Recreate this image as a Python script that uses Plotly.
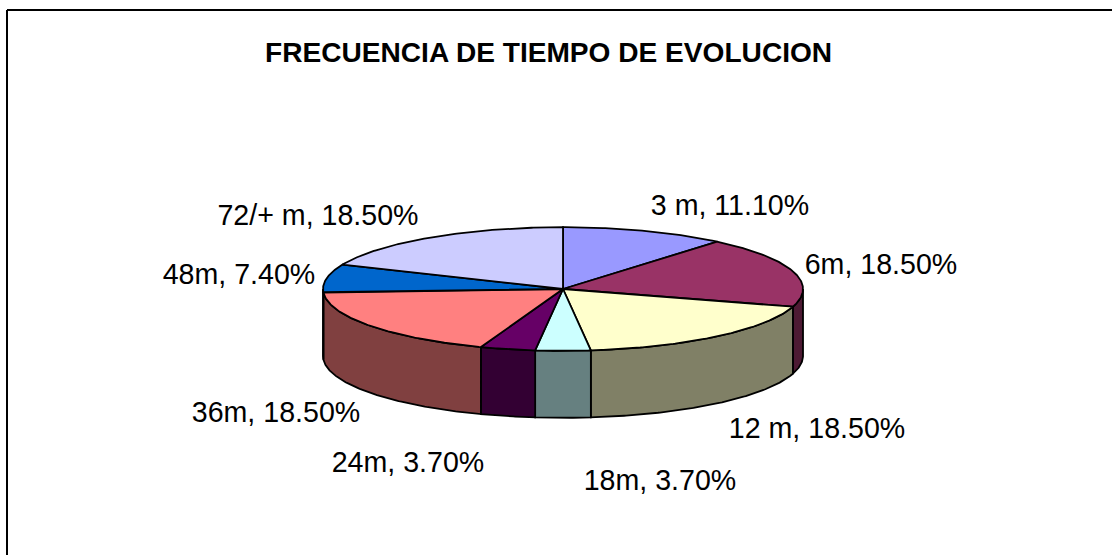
import numpy as np
import plotly.graph_objects as go

categories = ['3 m', '6m', '12 m', '18m', '24m', '36m', '48m', '72/+ m']
percents = [11.1, 18.5, 18.5, 3.7, 3.7, 18.5, 7.4, 18.5]
title_text = 'FRECUENCIA DE TIEMPO DE EVOLUCION'

top_colors = ['#9999FF', '#993366', '#FFFFCC', '#CCFFFF', '#660066', '#FF8080', '#0066CC', '#CCCCFF']
side_colors = ['#4D4D80', '#4D1A33', '#808066', '#668080', '#330033', '#804040', '#003366', '#666680']

# where each label sits, same order as categories
label_x = [730, 881, 817, 660, 408, 276, 239, 318]
label_y = [208, 267, 431, 483, 465, 415, 277, 218]

W, H = 1112, 555
CX, CY = 563, 289
RX, RY = 240, 61.8
DEPTH = 67
FONT = 'Liberation Sans, Arial, sans-serif'


def arc(a0, a1):
    # angles in degrees, clockwise from 12 o'clock
    t = np.radians(np.linspace(a0, a1, max(int(abs(a1 - a0) * 2), 2)))
    return CX + RX * np.sin(t), CY - RY * np.cos(t)


def polygon(fig, x, y, color):
    fig.add_trace(go.Scatter(x=list(x), y=list(y), mode='lines', fill='toself',
                             fillcolor=color, line=dict(color='black', width=1.8),
                             hoverinfo='skip', showlegend=False))


edges = np.cumsum([0] + percents) / sum(percents) * 360

fig = go.Figure()

# side walls first, only the front half of the rim shows
for i in range(len(percents)):
    a0, a1 = max(edges[i], 90), min(edges[i + 1], 270)
    if a1 <= a0:
        continue
    x, y = arc(a0, a1)
    polygon(fig, np.r_[x, x[::-1], x[0]], np.r_[y, y[::-1] + DEPTH, y[0]], side_colors[i])

# top of the pie
for i in range(len(percents)):
    x, y = arc(edges[i], edges[i + 1])
    polygon(fig, np.r_[CX, x, CX], np.r_[CY, y, CY], top_colors[i])

labels = [f'{c}, {p:.2f}%' for c, p in zip(categories, percents)]
fig.add_trace(go.Scatter(x=label_x, y=label_y, mode='text', text=labels,
                         textposition='middle center',
                         textfont=dict(family=FONT, size=28.6, color='black'),
                         hoverinfo='skip', showlegend=False))

fig.update_layout(width=W,
                  height=H,
                  margin=dict(l=0, r=0, t=0, b=0),
                  paper_bgcolor='white',
                  plot_bgcolor='white',
                  xaxis=dict(range=[0, W], visible=False, fixedrange=True),
                  yaxis=dict(range=[H, 0], visible=False, fixedrange=True),
                  annotations=[dict(x=548.5, y=52, xref='x', yref='y', text=f'<b>{title_text}</b>',
                                    showarrow=False, font=dict(family=FONT, size=28.1, color='black'))],
                  shapes=[dict(type='line', x0=7, x1=W, y0=10, y1=10, line=dict(color='black', width=2)),
                          dict(type='line', x0=7, x1=7, y0=10, y1=H, line=dict(color='black', width=2))])

fig.write_html("out.html", config={'displayModeBar': False},
               post_script="document.body.style.margin='0';document.body.style.overflow='hidden';")
